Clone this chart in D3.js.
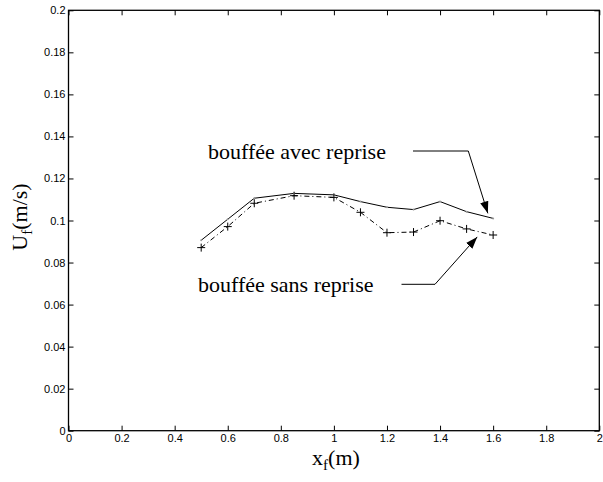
<!DOCTYPE html>
<html><head><meta charset="utf-8">
<script src="https://cdn.jsdelivr.net/npm/d3@7"></script>
<style>body{margin:0;background:#fff}svg{display:block}</style>
</head><body>
<script>
const xPos = [0.5, 0.6, 0.7, 0.85, 1.0, 1.1, 1.2, 1.3, 1.4, 1.5, 1.6];
const avecReprise = [0.0906, 0.1006, 0.1106, 0.1129, 0.1122, 0.1090, 0.1063, 0.1052, 0.1090, 0.1042, 0.1010];
const sansReprise = [0.0871, 0.0971, 0.1082, 0.1118, 0.1110, 0.1039, 0.0942, 0.0945, 0.0999, 0.0960, 0.0931];
const xTicks = [0, 0.2, 0.4, 0.6, 0.8, 1, 1.2, 1.4, 1.6, 1.8, 2];
const yTicks = [0, 0.02, 0.04, 0.06, 0.08, 0.1, 0.12, 0.14, 0.16, 0.18, 0.2];
const labelAvec = "bouffée avec reprise";
const labelSans = "bouffée sans reprise";

const W = 603, H = 482;
const L = 68.5, R = 599.3, T = 10.3, B = 430.7;
const svg = d3.select("body").append("svg").attr("width", W).attr("height", H);
const x = d3.scaleLinear().domain([0, 2]).range([L, R]);
const y = d3.scaleLinear().domain([0, 0.2]).range([B, T]);

const tickFont = "'Liberation Sans', Arial, Helvetica, sans-serif";
const serif = "'Liberation Serif', 'Times New Roman', Times, serif";

function styleAxis(g, showLabels) {
  g.select(".domain").remove();
  g.selectAll(".tick line").attr("stroke", "#000").attr("stroke-width", 1);
  g.selectAll(".tick text").attr("font-family", tickFont).attr("font-size", 11).attr("fill", "#000");
  if (!showLabels) g.selectAll(".tick text").remove();
}
const fmt = d => String(+d.toFixed(2));
svg.append("g").attr("transform", `translate(0,${B})`)
  .call(d3.axisBottom(x).tickValues(xTicks).tickFormat(fmt).tickSizeInner(-5).tickSizeOuter(0).tickPadding(4))
  .call(g => styleAxis(g, true));
svg.append("g").attr("transform", `translate(0,${T})`)
  .call(d3.axisTop(x).tickValues(xTicks).tickSizeInner(-5).tickSizeOuter(0))
  .call(g => styleAxis(g, false));
svg.append("g").attr("transform", `translate(${L},0)`)
  .call(d3.axisLeft(y).tickValues(yTicks).tickFormat(fmt).tickSizeInner(-5).tickSizeOuter(0).tickPadding(3))
  .call(g => styleAxis(g, true));
svg.append("g").attr("transform", `translate(${R},0)`)
  .call(d3.axisRight(y).tickValues(yTicks).tickSizeInner(-5).tickSizeOuter(0))
  .call(g => styleAxis(g, false));

svg.append("rect").attr("x", L).attr("y", T).attr("width", R - L).attr("height", B - T)
  .attr("fill", "none").attr("stroke", "#000").attr("stroke-width", 1.3);

const line = d3.line().x(d => x(d[0])).y(d => y(d[1]));
const dA = xPos.map((v, i) => [v, avecReprise[i]]);
const dS = xPos.map((v, i) => [v, sansReprise[i]]);

svg.append("path").attr("d", line(dA)).attr("fill", "none").attr("stroke", "#000").attr("stroke-width", 1);
svg.append("path").attr("d", line(dS)).attr("fill", "none").attr("stroke", "#000").attr("stroke-width", 1)
  .attr("stroke-dasharray", "5,3,1,3");

svg.selectAll(".dotA").data(dA).enter().append("circle")
  .attr("cx", d => x(d[0])).attr("cy", d => y(d[1])).attr("r", 1).attr("fill", "#999");
const plus = svg.selectAll(".plus").data(dS).enter().append("g")
  .attr("transform", d => `translate(${x(d[0])},${y(d[1])})`);
plus.append("line").attr("x1", -4).attr("x2", 4).attr("stroke", "#000").attr("stroke-width", 1);
plus.append("line").attr("y1", -4).attr("y2", 4).attr("stroke", "#000").attr("stroke-width", 1);

// annotations
svg.append("defs").append("marker").attr("id", "arr").attr("viewBox", "0 0 10 10")
  .attr("refX", 10).attr("refY", 5).attr("markerWidth", 12).attr("markerHeight", 12)
  .attr("markerUnits", "userSpaceOnUse").attr("orient", "auto")
  .append("path").attr("d", "M0,1.5 L10,5 L0,8.5 Z").attr("fill", "#000");

svg.append("text").attr("x", 208).attr("y", 159).attr("font-family", serif).attr("font-size", 22)
  .attr("fill", "#000").text(labelAvec);
svg.append("polyline").attr("points", `${413},151 ${468.3},151 ${x(1.58)},${y(0.1034)}`)
  .attr("fill", "none").attr("stroke", "#000").attr("stroke-width", 1).attr("marker-end", "url(#arr)");

svg.append("text").attr("x", 198).attr("y", 292).attr("font-family", serif).attr("font-size", 22)
  .attr("fill", "#000").text(labelSans);
svg.append("polyline").attr("points", `${401.5},284.3 ${435},284.3 ${x(1.54)},${y(0.0922)}`)
  .attr("fill", "none").attr("stroke", "#000").attr("stroke-width", 1).attr("marker-end", "url(#arr)");

// axis titles
const xl = svg.append("text").attr("x", 336).attr("y", 465).attr("text-anchor", "middle")
  .attr("font-family", serif).attr("font-size", 22).attr("fill", "#000");
xl.append("tspan").text("x");
xl.append("tspan").attr("font-size", 15).attr("dy", 5).text("f");
xl.append("tspan").attr("dy", -5).text("(m)");

const yl = svg.append("text").attr("transform", "translate(27,217) rotate(-90)").attr("text-anchor", "middle")
  .attr("font-family", serif).attr("font-size", 22).attr("fill", "#000");
yl.append("tspan").text("U");
yl.append("tspan").attr("font-size", 15).attr("dy", 5).text("f");
yl.append("tspan").attr("dy", -5).text("(m/s)");
</script>
</body></html>
